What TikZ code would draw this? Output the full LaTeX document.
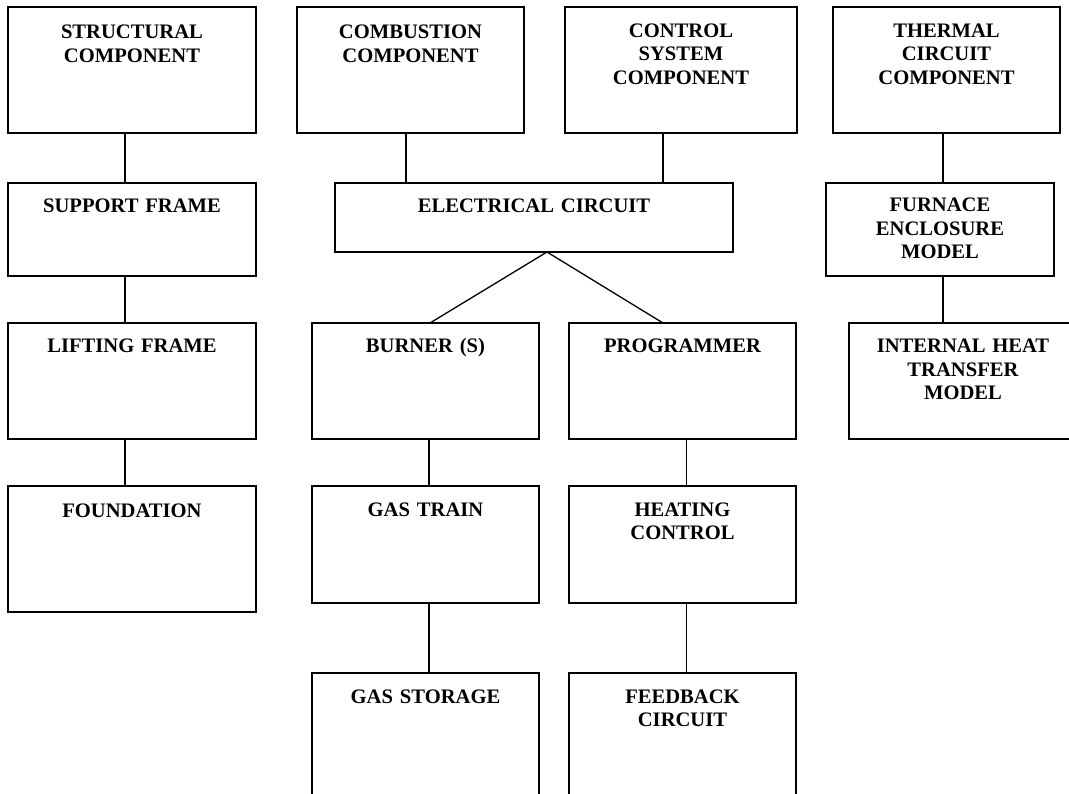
\documentclass[tikz,border=0pt]{standalone}
\usepackage{fontspec}
\setmainfont{Liberation Serif}
\begin{document}
\begin{tikzpicture}[x=1pt,y=-1pt,
  box/.style={draw=black, line width=1.8pt, inner sep=0pt, outer sep=0pt},
  lbl/.style={anchor=base, inner sep=0pt, text width=240pt, align=center,
    font=\fontsize{20.6pt}{23.5pt}\selectfont\bfseries},
  link/.style={draw=black, line width=1.3pt}]
\useasboundingbox (0,0) rectangle (1069,794);
\clip (0,0) rectangle (1069,794);

% top row: component groups
\node[box, minimum width=248pt, minimum height=126pt] (struct) at (132,70) {};
\node[box, minimum width=227pt, minimum height=126pt] (comb) at (410.5,70) {};
\node[box, minimum width=232pt, minimum height=126pt] (ctrl) at (681,70) {};
\node[box, minimum width=227pt, minimum height=126pt] (therm) at (946.5,70) {};

% second row
\node[box, minimum width=248pt, minimum height=93pt] (support) at (132,229.5) {};
\node[box, minimum width=398pt, minimum height=69pt] (elec) at (534,217.5) {};
\node[box, minimum width=228pt, minimum height=93pt] (furnace) at (940,229.5) {};

% third row
\node[box, minimum width=248pt, minimum height=116pt] (lifting) at (132,381) {};
\node[box, minimum width=227pt, minimum height=116pt] (burner) at (425.5,381) {};
\node[box, minimum width=227pt, minimum height=116pt] (prog) at (682.5,381) {};
\node[box, minimum width=228pt, minimum height=116pt] (internal) at (963,381) {};

% fourth row
\node[box, minimum width=248pt, minimum height=126pt] (found) at (132,549) {};
\node[box, minimum width=227pt, minimum height=117pt] (gastrain) at (425.5,544.5) {};
\node[box, minimum width=227pt, minimum height=117pt] (heating) at (682.5,544.5) {};

% fifth row
\node[box, minimum width=227pt, minimum height=157pt] (gasstore) at (425.5,751.5) {};
\node[box, minimum width=227pt, minimum height=157pt] (feedback) at (682.5,751.5) {};

% labels, set near the top edge of each box
\node[lbl] (struct-t) at ([yshift=-32pt]struct.north) {STRUCTURAL\\COMPONENT};
\node[lbl] (comb-t) at ([yshift=-32pt]comb.north) {COMBUSTION\\COMPONENT};
\node[lbl] (ctrl-t) at ([yshift=-30.5pt]ctrl.north) {CONTROL\\SYSTEM\\COMPONENT};
\node[lbl] (therm-t) at ([yshift=-30.5pt]therm.north) {THERMAL\\CIRCUIT\\COMPONENT};
\node[lbl] (support-t) at ([yshift=-30pt]support.north) {SUPPORT FRAME};
\node[lbl] (elec-t) at ([yshift=-30pt]elec.north) {ELECTRICAL CIRCUIT};
\node[lbl] (furnace-t) at ([yshift=-29pt]furnace.north) {FURNACE\\ENCLOSURE\\MODEL};
\node[lbl] (lifting-t) at ([yshift=-30pt]lifting.north) {LIFTING FRAME};
\node[lbl] (burner-t) at ([yshift=-30pt]burner.north) {BURNER (S)};
\node[lbl] (prog-t) at ([yshift=-30pt]prog.north) {PROGRAMMER};
\node[lbl] (internal-t) at ([yshift=-30pt]internal.north) {INTERNAL HEAT\\TRANSFER\\MODEL};
\node[lbl] (found-t) at ([yshift=-31pt]found.north) {FOUNDATION};
\node[lbl] (gastrain-t) at ([yshift=-30pt]gastrain.north) {GAS TRAIN};
\node[lbl] (heating-t) at ([yshift=-30pt]heating.north) {HEATING\\CONTROL};
\node[lbl] (gasstore-t) at ([yshift=-30pt]gasstore.north) {GAS STORAGE};
\node[lbl] (feedback-t) at ([yshift=-30pt]feedback.north) {FEEDBACK\\CIRCUIT};

% connectors
\draw[link] ([xshift=-7pt]struct.south) -- ([xshift=-7pt]support.north);
\draw[link] ([xshift=-7pt]support.south) -- ([xshift=-7pt]lifting.north);
\draw[link] ([xshift=-7pt]lifting.south) -- ([xshift=-7pt]found.north);

\coordinate (combdrop) at ([xshift=-4.5pt]comb.south);
\draw[link] (combdrop) -- (combdrop |- elec.north);
\coordinate (ctrldrop) at ([xshift=-18pt]ctrl.south);
\draw[link] (ctrldrop) -- (ctrldrop |- elec.north);

\draw[link] ([xshift=13pt]elec.south) -- ([xshift=4.5pt]burner.north);
\draw[link] ([xshift=13pt]elec.south) -- ([xshift=-19.5pt]prog.north);

\draw[link] ([xshift=3.5pt]burner.south) -- ([xshift=3.5pt]gastrain.north);
\draw[link] ([xshift=3.5pt]gastrain.south) -- ([xshift=3.5pt]gasstore.north);
\draw[link] ([xshift=4pt]prog.south) -- ([xshift=4pt]heating.north);
\draw[link] ([xshift=4pt]heating.south) -- ([xshift=4pt]feedback.north);

\coordinate (thermdrop) at ([xshift=-3.5pt]therm.south);
\draw[link] (thermdrop) -- (thermdrop |- furnace.north);
\coordinate (furndrop) at ([xshift=3pt]furnace.south);
\draw[link] (furndrop) -- (furndrop |- internal.north);
\end{tikzpicture}
\end{document}
